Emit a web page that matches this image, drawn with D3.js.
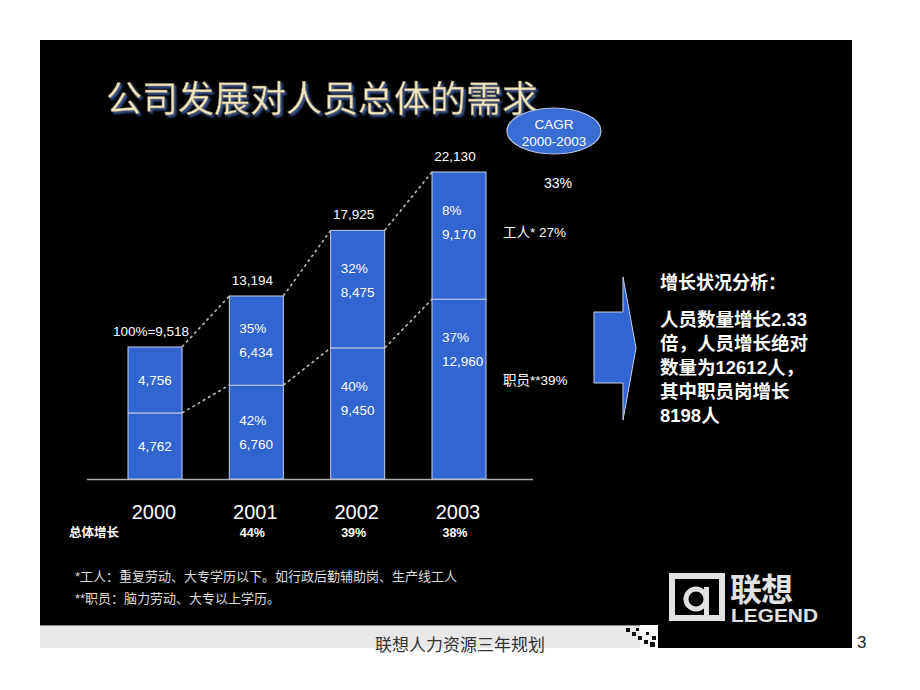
<!DOCTYPE html>
<html>
<head>
<meta charset="utf-8">
<script src="https://cdn.jsdelivr.net/npm/d3@7"></script>
<style>
  body { margin: 0; background: #fff; }
  svg { display: block; }
  text { font-family: "Liberation Sans", Arial, "Noto Sans CJK SC", sans-serif; }
  .cjk { font-family: "Liberation Sans", "Noto Sans CJK SC", sans-serif; }
</style>
</head>
<body>
<svg id="chart" width="920" height="690"></svg>
<script>
/* values */
const years = ["2000", "2001", "2002", "2003"];
const staff = [4762, 6760, 9450, 12960];      // 职员 (lower part)
const workers = [4756, 6434, 8475, 9170];     // 工人 (upper part)
const totals = [9518, 13194, 17925, 22130];
const staffGrowth = [null, "42%", "40%", "37%"];
const workerGrowth = [null, "35%", "32%", "8%"];
const totalGrowth = ["", "44%", "39%", "38%"];
const totalLabels = ["100%=9,518", "13,194", "17,925", "22,130"];
const cagr = { total: "33%", workers: "工人* 27%", staff: "职员**39%" };
const analysis = ["人员数量增长2.33", "倍，人员增长绝对", "数量为12612人，", "其中职员岗增长", "8198人"];
const notes = ["*工人：重复劳动、大专学历以下。如行政后勤辅助岗、生产线工人", "**职员：脑力劳动、大专以上学历。"];

const blue = "#3264d2";
let svg = d3.select("#chart");

let defs = svg.append("defs");
let f = defs.append("filter").attr("id", "titleShadow").attr("x", "-5%").attr("y", "-20%").attr("width", "110%").attr("height", "140%");
f.append("feDropShadow").attr("dx", 2).attr("dy", 2).attr("stdDeviation", 1.2).attr("flood-color", "#3a5a9a").attr("flood-opacity", 1);

// slide background
svg.append("rect").attr("x", 40).attr("y", 40).attr("width", 812).attr("height", 585).attr("fill", "#000");

// footer band
svg.append("rect").attr("x", 40).attr("y", 625).attr("width", 600).attr("height", 23).attr("fill", "#e8e8e8");
svg.append("line").attr("x1", 40).attr("x2", 640).attr("y1", 625.5).attr("y2", 625.5).attr("stroke", "#888");
svg.append("rect").attr("x", 658).attr("y", 625).attr("width", 194).attr("height", 23).attr("fill", "#000");
// stepped pixel pattern next to the black footer block
[[626, 628, 4], [632, 632, 4], [638, 636, 4], [636, 628, 3], [644, 640, 4], [650, 642, 5], [652, 636, 4], [646, 632, 3]]
  .forEach(function(s) {
    svg.append("rect").attr("x", s[0]).attr("y", s[1]).attr("width", s[2]).attr("height", s[2]).attr("fill", "#111");
  });
svg.append("text").attr("class", "cjk").attr("x", 460).attr("y", 651).attr("text-anchor", "middle")
  .attr("font-size", 17).attr("fill", "#333").text("联想人力资源三年规划");
svg.append("text").attr("x", 857).attr("y", 648).attr("font-size", 17).attr("fill", "#222").text("3");

// title
svg.append("text").attr("class", "cjk").attr("x", 106).attr("y", 112)
  .attr("font-size", 36).attr("letter-spacing", 0).attr("fill", "#efe6c6")
  .attr("stroke", "#8a7c58").attr("stroke-width", 0.5)
  .attr("filter", "url(#titleShadow)")
  .text("公司发展对人员总体的需求");

/*--------------------------------------------------------------------------*/
// bars

let x = d3.scaleBand().domain(years).range([128, 486]).paddingInner(0.467).paddingOuter(0);
let y = d3.scaleLinear().domain([0, 22130]).range([479, 172]);
let bw = x.bandwidth();

let gBars = svg.append("g").attr("class", "bars");

// base line
gBars.append("line").attr("x1", 87).attr("x2", 533).attr("y1", y(0) + 0.5).attr("y2", y(0) + 0.5)
  .attr("stroke", "#aaa").attr("stroke-width", 1.5);

let seg = [];
years.forEach(function(yr, i) {
  seg.push({ year: yr, i: i, lo: 0, hi: staff[i], value: staff[i], growth: staffGrowth[i] });
  seg.push({ year: yr, i: i, lo: staff[i], hi: totals[i], value: workers[i], growth: workerGrowth[i] });
});

gBars.selectAll("rect.seg").data(seg).enter().append("rect")
  .attr("class", "seg")
  .attr("x", d => x(d.year))
  .attr("y", d => y(d.hi))
  .attr("width", bw)
  .attr("height", d => y(d.lo) - y(d.hi))
  .attr("fill", blue)
  .attr("stroke", "#c4cee8")
  .attr("stroke-width", 1);

// labels inside segments
let fmt = d3.format(",");
seg.forEach(function(d) {
  let top = y(d.hi), h = y(d.lo) - y(d.hi),
    cy = top + Math.min(h / 2, 50),
    tx = x(d.year) + 10;
  let lines = d.growth ? [d.growth, fmt(d.value)] : [fmt(d.value)];
  lines.forEach(function(t, k) {
    let dy = lines.length === 1 ? 0 : (k === 0 ? -12 : 12);
    gBars.append("text").attr("x", tx).attr("y", cy + dy).attr("dy", "0.35em")
      .attr("font-size", 13.5).attr("fill", "#fff").text(t);
  });
});

// totals above bars
gBars.selectAll("text.total").data(years).enter().append("text")
  .attr("class", "total")
  .attr("x", (d, i) => x(d) + bw / 2 - 4)
  .attr("y", (d, i) => y(totals[i]) - 16)
  .attr("dy", "0.35em")
  .attr("text-anchor", "middle")
  .attr("font-size", 13.5).attr("fill", "#fff")
  .text((d, i) => totalLabels[i]);

// dotted connectors: bar top to bar top, and split to split
let line = d3.line();
function connectors(vals) {
  for (let i = 0; i < years.length - 1; i++) {
    let p = [[x(years[i]) + bw, y(vals[i])], [x(years[i + 1]), y(vals[i + 1])]];
    gBars.append("path").attr("d", line(p)).attr("fill", "none")
      .attr("stroke", "#bbb").attr("stroke-width", 1.6).attr("stroke-dasharray", "3,3");
  }
}
connectors(totals);
connectors(staff);

// year axis labels + growth row
gBars.selectAll("text.year").data(years).enter().append("text")
  .attr("class", "year")
  .attr("x", d => x(d) + bw / 2 - 1)
  .attr("y", 512).attr("dy", "0.35em")
  .attr("text-anchor", "middle")
  .attr("font-size", 20).attr("fill", "#fff")
  .text(d => d);
gBars.append("text").attr("class", "cjk").attr("x", 69).attr("y", 533).attr("dy", "0.35em")
  .attr("font-size", 12.5).attr("font-weight", "bold").attr("fill", "#fff").text("总体增长");
gBars.selectAll("text.growth").data(years).enter().append("text")
  .attr("class", "growth")
  .attr("x", d => x(d) + bw / 2 - 4)
  .attr("y", 533).attr("dy", "0.35em")
  .attr("text-anchor", "middle")
  .attr("font-size", 12.5).attr("font-weight", "bold").attr("fill", "#fff")
  .text((d, i) => totalGrowth[i]);

/*--------------------------------------------------------------------------*/
// CAGR column

svg.append("ellipse").attr("cx", 554).attr("cy", 131).attr("rx", 47).attr("ry", 23)
  .attr("fill", "#3a6cd6").attr("stroke", "#b8c4e0").attr("stroke-width", 1.2);
svg.append("text").attr("x", 554).attr("y", 124).attr("dy", "0.35em").attr("text-anchor", "middle")
  .attr("font-size", 13.5).attr("fill", "#fff").text("CAGR");
svg.append("text").attr("x", 554).attr("y", 141).attr("dy", "0.35em").attr("text-anchor", "middle")
  .attr("font-size", 13.5).attr("fill", "#fff").text("2000-2003");
svg.append("text").attr("x", 558).attr("y", 183).attr("dy", "0.35em").attr("text-anchor", "middle")
  .attr("font-size", 14).attr("fill", "#fff").text(cagr.total);
svg.append("text").attr("class", "cjk").attr("x", 503).attr("y", 232).attr("dy", "0.35em")
  .attr("font-size", 13.5).attr("fill", "#fff").text(cagr.workers);
svg.append("text").attr("class", "cjk").attr("x", 503).attr("y", 380).attr("dy", "0.35em")
  .attr("font-size", 13.5).attr("fill", "#fff").text(cagr.staff);

// arrow
svg.append("polygon")
  .attr("points", "594,312 623,312 623,277 636,348 623,420 623,383 594,383")
  .attr("fill", blue).attr("stroke", "#c8d0e8").attr("stroke-width", 1);

// analysis text
svg.append("text").attr("class", "cjk").attr("x", 660).attr("y", 283).attr("dy", "0.35em")
  .attr("font-size", 18).attr("font-weight", "bold").attr("fill", "#fff").text("增长状况分析：");
analysis.forEach(function(t, k) {
  svg.append("text").attr("class", "cjk").attr("x", 660).attr("y", 320 + k * 24).attr("dy", "0.35em")
    .attr("font-size", 18.5).attr("font-weight", "bold").attr("fill", "#fff").text(t);
});

// footnotes
notes.forEach(function(t, k) {
  svg.append("text").attr("class", "cjk").attr("x", 75).attr("y", 576 + k * 22).attr("dy", "0.35em")
    .attr("font-size", 13).attr("fill", "#ddd").text(t);
});

/*--------------------------------------------------------------------------*/
// logo

let gLogo = svg.append("g").attr("class", "logo").attr("fill", "#e2e2e2");
gLogo.append("rect").attr("x", 672).attr("y", 576).attr("width", 50).attr("height", 42)
  .attr("fill", "none").attr("stroke", "#e2e2e2").attr("stroke-width", 6);
gLogo.append("circle").attr("cx", 696).attr("cy", 599).attr("r", 10)
  .attr("fill", "none").attr("stroke", "#e2e2e2").attr("stroke-width", 5);
gLogo.append("rect").attr("x", 704).attr("y", 587).attr("width", 5).attr("height", 28);
gLogo.append("text").attr("class", "cjk").attr("x", 730).attr("y", 601)
  .attr("font-size", 32).attr("font-weight", "bold").attr("letter-spacing", -1).text("联想");
gLogo.append("text").attr("x", 731).attr("y", 622)
  .attr("font-size", 18).attr("font-weight", "bold")
  .attr("textLength", 87).attr("lengthAdjust", "spacingAndGlyphs").text("LEGEND");
</script>
</body>
</html>
